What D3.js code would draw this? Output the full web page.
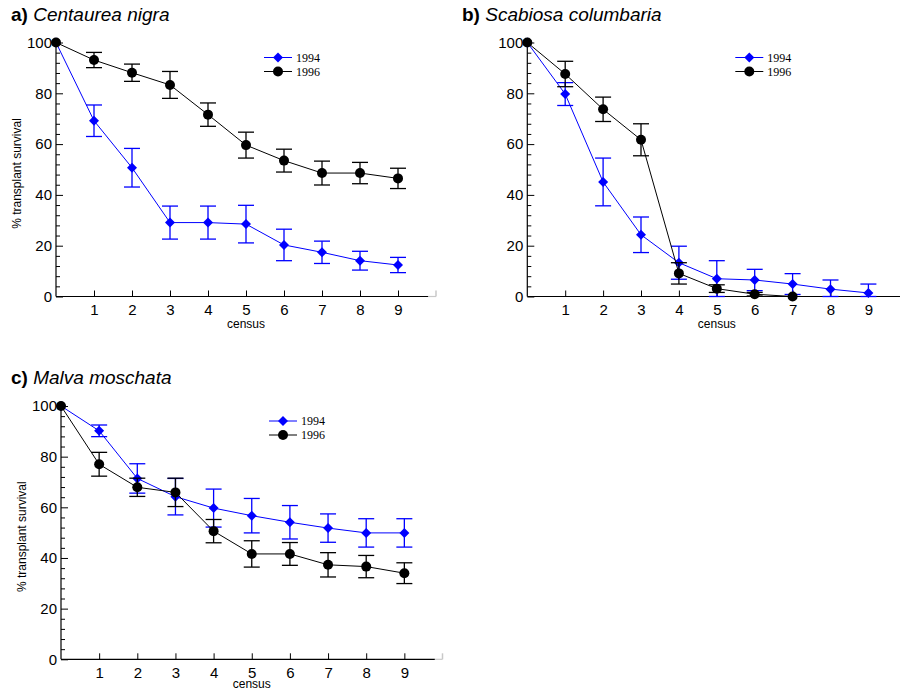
<!DOCTYPE html>
<html>
<head>
<meta charset="utf-8">
<script src="https://cdn.jsdelivr.net/npm/d3@7"></script>
<style>
  html, body { margin: 0; padding: 0; background: #ffffff; }
  svg { display: block; }
</style>
</head>
<body>
<svg id="chart" width="900" height="691"></svg>
<script>
// ---- data ----
const census = [0, 1, 2, 3, 4, 5, 6, 7, 8, 9];
const xTicks = [1, 2, 3, 4, 5, 6, 7, 8, 9];
const yTicks = [0, 20, 40, 60, 80, 100];
const seriesNames = ["1994", "1996"];

const aMean1994 = [100, 69.2, 50.7, 29.1, 29.1, 28.5, 20.3, 17.4, 14.1, 12.4];
const aErr1994  = [0, 6.2, 7.6, 6.5, 6.5, 7.4, 6.2, 4.4, 3.7, 3.0];
const aMean1996 = [100, 93.1, 88.1, 83.3, 71.6, 59.6, 53.5, 48.6, 48.6, 46.5];
const aErr1996  = [0, 3.0, 3.4, 5.3, 4.6, 5.1, 4.5, 4.7, 4.2, 4.0];

const bMean1994 = [100, 79.7, 45.1, 24.3, 13.3, 7.0, 6.5, 4.9, 2.9, 1.4];
const bErr1994  = [0, 4.5, 9.4, 7.0, 6.5, 7.1, 4.2, 4.1, 3.6, 3.5];
const bMean1996 = [100, 87.6, 73.7, 61.7, 9.1, 3.1, 0.9, 0.0];
const bErr1996  = [0, 5.0, 4.8, 6.3, 4.2, 1.5, 0.7, 0.3];

const cMean1994 = [100, 90.2, 71.4, 64.2, 59.7, 56.7, 54.1, 51.8, 49.9, 49.9];
const cErr1994  = [0, 2.3, 5.8, 7.2, 7.5, 6.8, 6.6, 5.6, 5.6, 5.6];
const cMean1996 = [100, 77.0, 67.9, 65.9, 50.6, 41.6, 41.6, 37.3, 36.6, 34.0];
const cErr1996  = [0, 4.7, 3.6, 5.6, 4.6, 5.2, 4.5, 4.8, 4.4, 4.1];

const panels = [
  { letter: "a)", name: "Centaurea nigra", x0: 56, x1: 436, y0: 296.5, y1: 42.5,
    titleX: 11, titleY: 21, yLabel: true, grayEnd: true,
    m94: aMean1994, e94: aErr1994, m96: aMean1996, e96: aErr1996 },
  { letter: "b)", name: "Scabiosa columbaria", x0: 527.3, x1: 906.3, y0: 296.5, y1: 42.5,
    titleX: 462, titleY: 21, yLabel: false, grayEnd: false,
    m94: bMean1994, e94: bErr1994, m96: bMean1996, e96: bErr1996 },
  { letter: "c)", name: "Malva moschata", x0: 61, x1: 442.5, y0: 659.3, y1: 406,
    titleX: 11, titleY: 384, yLabel: true, grayEnd: true,
    m94: cMean1994, e94: cErr1994, m96: cMean1996, e96: cErr1996 }
];

const BLUE = "#0000ff";
const BLACK = "#000000";
const svg = d3.select("#chart");
const sans = "Arial, 'Liberation Sans', sans-serif";
const serif = "'Times New Roman', 'Liberation Serif', serif";

panels.forEach(p => {
  const g = svg.append("g");
  const x = d3.scaleLinear().domain([0, 10]).range([p.x0, p.x1]);
  const y = d3.scaleLinear().domain([0, 100]).range([p.y0, p.y1]);

  // title
  const t = g.append("text").attr("x", p.titleX).attr("y", p.titleY)
    .attr("font-family", sans).attr("font-size", 19).attr("fill", "#000");
  t.append("tspan").attr("font-weight", "bold").text(p.letter + " ");
  t.append("tspan").attr("font-style", "italic").text(p.name);

  // y axis (major, inside ticks)
  const yAx = g.append("g").attr("transform", `translate(${x(0)},0)`)
    .call(d3.axisLeft(y).tickValues(yTicks).tickSize(-7).tickSizeOuter(0).tickPadding(4));
  yAx.select(".domain").remove();
  yAx.selectAll("text").attr("font-family", sans).attr("font-size", 15).attr("fill", "#000");
  yAx.selectAll("line").attr("stroke", "#000");
  // minor ticks
  const minor = d3.range(0, 101, 4).filter(v => v % 20 !== 0);
  const yMin = g.append("g").attr("transform", `translate(${x(0)},0)`)
    .call(d3.axisLeft(y).tickValues(minor).tickSize(-4).tickFormat(""));
  yMin.select(".domain").remove();
  yMin.selectAll("line").attr("stroke", "#000");
  g.append("line").attr("x1", x(0)).attr("x2", x(0)).attr("y1", y(0)).attr("y2", y(100))
    .attr("stroke", "#000").attr("stroke-width", 1.2);

  // x axis
  const xAx = g.append("g").attr("transform", `translate(0,${y(0)})`)
    .call(d3.axisBottom(x).tickValues(xTicks).tickSize(-6).tickSizeOuter(0).tickPadding(8));
  xAx.select(".domain").remove();
  xAx.selectAll("text").attr("font-family", sans).attr("font-size", 15).attr("fill", "#000");
  xAx.selectAll("line").attr("stroke", "#000");
  const xEnd = p.grayEnd ? 9.8 : 10;
  g.append("line").attr("x1", x(0)).attr("x2", x(xEnd)).attr("y1", y(0)).attr("y2", y(0))
    .attr("stroke", "#000").attr("stroke-width", 1.2);
  if (p.grayEnd) {
    g.append("line").attr("x1", x(xEnd)).attr("x2", x(10)).attr("y1", y(0)).attr("y2", y(0))
      .attr("stroke", "#c8c8c8").attr("stroke-width", 1.2);
    g.append("line").attr("x1", x(10)).attr("x2", x(10)).attr("y1", y(0)).attr("y2", y(0) - 6)
      .attr("stroke", "#c8c8c8").attr("stroke-width", 1.5);
  }

  // axis labels
  const censusY = Math.min(y(0) + 31.5, 688);
  g.append("text").attr("x", x(5)).attr("y", censusY).attr("text-anchor", "middle")
    .attr("font-family", sans).attr("font-size", 12).text("census");
  if (p.yLabel) {
    const cy = (y(0) + y(100)) / 2 + 4;
    g.append("text").attr("transform", `translate(${p.x0 - 35},${cy}) rotate(-90)`)
      .attr("text-anchor", "middle").attr("font-family", sans).attr("font-size", 12)
      .text("% transplant survival");
  }

  // series
  const series = [
    { m: p.m94, e: p.e94, color: BLUE, shape: "diamond" },
    { m: p.m96, e: p.e96, color: BLACK, shape: "circle" }
  ];
  series.forEach(s => {
    const pts = s.m.map((v, i) => ({ c: census[i], v: v, e: s.e[i] }));
    g.append("path").datum(pts)
      .attr("fill", "none").attr("stroke", s.color).attr("stroke-width", 1)
      .attr("d", d3.line().x(d => x(d.c)).y(d => y(d.v)));
    const eb = pts.filter(d => d.e > 0.5);
    eb.forEach(d => {
      const lo = y(Math.max(0, d.v - d.e)), hi = y(d.v + d.e), cx = x(d.c);
      g.append("line").attr("x1", cx).attr("x2", cx).attr("y1", lo).attr("y2", hi)
        .attr("stroke", s.color).attr("stroke-width", 1.3);
      [lo, hi].forEach(yy => g.append("line").attr("x1", cx - 8).attr("x2", cx + 8)
        .attr("y1", yy).attr("y2", yy).attr("stroke", s.color).attr("stroke-width", 1.3));
    });
    pts.forEach(d => {
      if (s.shape === "circle") {
        g.append("circle").attr("cx", x(d.c)).attr("cy", y(d.v)).attr("r", 5).attr("fill", s.color);
      } else {
        const cx = x(d.c), cy = y(d.v), r = 5;
        g.append("path").attr("d", `M${cx},${cy - r}L${cx + r},${cy}L${cx},${cy + r}L${cx - r},${cy}Z`)
          .attr("fill", s.color);
      }
    });
  });

  // legend
  const lx = x(0) + 208;
  const ly = [y(100) + 15, y(100) + 29];
  seriesNames.forEach((name, i) => {
    const color = i === 0 ? BLUE : BLACK;
    g.append("line").attr("x1", lx).attr("x2", lx + 28).attr("y1", ly[i]).attr("y2", ly[i])
      .attr("stroke", color).attr("stroke-width", 1);
    const mx = lx + 14, my = ly[i];
    if (i === 0) {
      g.append("path").attr("d", `M${mx},${my - 5}L${mx + 5},${my}L${mx},${my + 5}L${mx - 5},${my}Z`)
        .attr("fill", color);
    } else {
      g.append("circle").attr("cx", mx).attr("cy", my).attr("r", 5).attr("fill", color);
    }
    g.append("text").attr("x", lx + 32).attr("y", my + 4)
      .attr("font-family", serif).attr("font-size", 12).text(name);
  });
});
</script>
</body>
</html>
